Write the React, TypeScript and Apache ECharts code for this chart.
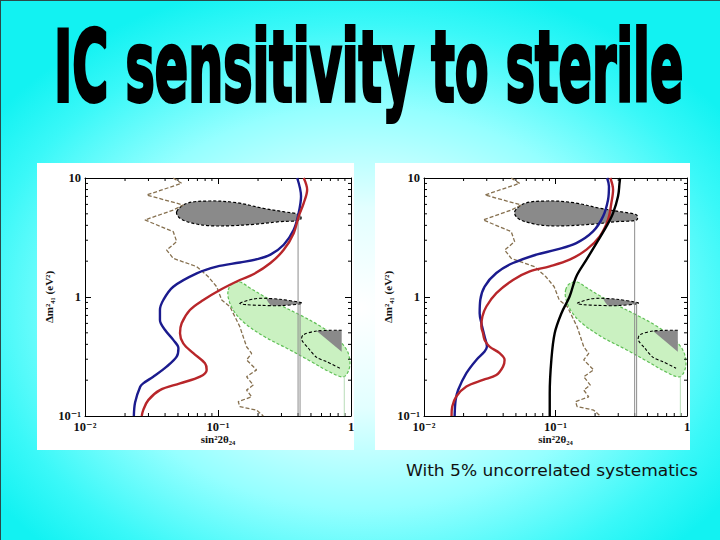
import React, { useEffect, useRef } from 'react';
import * as echarts from 'echarts';

type P = [number, number];

// ---- shared data (sin^2 2θ24, Δm²41) ----
const brownLimit: P[] = [[0.046,10],[0.0533,9.02],[0.0291,7.2],[0.0548,5.93],[0.0461,5.38],[0.0282,4.44],[0.0461,3.54],[0.0489,2.92],[0.0411,2.48],[0.0461,2.11],[0.0692,1.8],[0.0845,1.48],[0.0977,1.22],[0.1067,0.944],[0.123,0.83],[0.146,0.562],[0.164,0.382],[0.179,0.336],[0.164,0.296],[0.195,0.244],[0.164,0.214],[0.184,0.182],[0.164,0.165],[0.179,0.145],[0.142,0.132],[0.146,0.12],[0.195,0.112],[0.219,0.1]];
const grayTop: P[] = [[0.0489,5.21],[0.0582,6.12],[0.0871,6.41],[0.138,6.2],[0.219,5.56],[0.31,5.21],[0.414,4.89],[0.414,4.44],[0.292,4.3],[0.195,4.1],[0.123,3.97],[0.0871,3.97],[0.0652,4.16],[0.0518,4.58]];
const grayMidOutline: P[] = [[0.146,0.885],[0.184,0.962],[0.219,0.975],[0.292,0.957],[0.426,0.896],[0.426,0.877],[0.292,0.846],[0.207,0.851],[0.164,0.862]];
const grayMidFill: P[] = [[0.232,0.965],[0.292,0.957],[0.426,0.896],[0.426,0.877],[0.3,0.846],[0.25,0.85]];
const grayLowFill: P[] = [[0.552,0.518],[0.851,0.525],[0.851,0.347]];
const grayLowOutline: P[] = [[0.851,0.525],[0.552,0.518],[0.437,0.48],[0.426,0.436],[0.478,0.371],[0.552,0.311],[0.656,0.286],[0.826,0.252]];
const greenRegion: P[] = [[0.1195,1.146],[0.127,1.285],[0.146,1.336],[0.174,1.19],[0.219,1.02],[0.292,0.857],[0.414,0.706],[0.585,0.571],[0.78,0.452],[0.929,0.359],[0.982,0.284],[0.949,0.234],[0.871,0.213],[0.695,0.234],[0.492,0.29],[0.348,0.359],[0.219,0.47],[0.155,0.617],[0.13,0.778],[0.1195,0.982]];
const vLineA: P[] = [[0.4,4.4],[0.4,0.1]];
const vLineB: P[] = [[0.414,0.88],[0.414,0.1]];
const vLineC: P[] = [[0.89,0.215],[0.89,0.1]];

// ---- left panel curves ----
const blueLeft: P[] = [[0.0233,0.1],[0.0238,0.13],[0.026,0.176],[0.0274,0.188],[0.0326,0.214],[0.0411,0.26],[0.0489,0.315],[0.0504,0.371],[0.0461,0.436],[0.04,0.528],[0.0366,0.641],[0.0366,0.778],[0.0388,0.944],[0.0461,1.22],[0.0692,1.58],[0.0977,1.8],[0.146,1.95],[0.197,2.08],[0.248,2.27],[0.312,2.75],[0.371,3.67],[0.404,5.07],[0.421,7.01],[0.394,10]];
const redLeft: P[] = [[0.0267,0.1],[0.0274,0.112],[0.0299,0.136],[0.0366,0.165],[0.0518,0.188],[0.0733,0.214],[0.0822,0.244],[0.0798,0.277],[0.0652,0.337],[0.0548,0.408],[0.0518,0.495],[0.0533,0.601],[0.0615,0.778],[0.0776,0.944],[0.1035,1.146],[0.146,1.39],[0.186,1.56],[0.248,1.93],[0.312,2.49],[0.371,3.44],[0.404,4.76],[0.441,6.16],[0.468,7.98],[0.441,10]];

// ---- right panel curves ----
const blueRight: P[] = [[0.0171,0.1],[0.0174,0.136],[0.0182,0.166],[0.021,0.229],[0.025,0.296],[0.0289,0.348],[0.0301,0.383],[0.0289,0.466],[0.0273,0.603],[0.0265,0.731],[0.0268,0.946],[0.0289,1.225],[0.0355,1.59],[0.0475,1.93],[0.0715,2.27],[0.1014,2.5],[0.144,2.84],[0.193,3.56],[0.23,4.76],[0.251,6.57],[0.255,8.51],[0.247,10]];
const redRight: P[] = [[0.0162,0.1],[0.0164,0.12],[0.0176,0.146],[0.021,0.177],[0.0281,0.201],[0.0355,0.221],[0.0399,0.26],[0.041,0.296],[0.0376,0.337],[0.0315,0.383],[0.0289,0.436],[0.0281,0.497],[0.0273,0.565],[0.0278,0.686],[0.0298,0.832],[0.0355,1.077],[0.0475,1.39],[0.0637,1.64],[0.0903,1.81],[0.128,2.06],[0.172,2.5],[0.217,3.23],[0.251,4.46],[0.266,6.17],[0.274,7.98],[0.261,10]];
const blackRight: P[] = [[0.0904,0.1],[0.0904,0.155],[0.093,0.296],[0.0986,0.497],[0.111,0.731],[0.128,1.01],[0.144,1.49],[0.172,2.06],[0.205,2.84],[0.244,3.92],[0.274,5.07],[0.299,7.01],[0.307,9.08],[0.31,10]];

// ---- ticks & labels ----
const xMinorTicks = [0.02,0.03,0.04,0.05,0.06,0.07,0.08,0.09,0.2,0.3,0.4,0.5,0.6,0.7,0.8,0.9];
const yMinorTicks = [0.2,0.3,0.4,0.5,0.6,0.7,0.8,0.9,2,3,4,5,6,7,8,9];
const tickLabels: Record<string, string> = { '-2': '10⁻²', '-1': '10⁻¹', '0': '1', '1': '10' };
const xName = 'sin²2θ₂₄';
const yName = 'Δm²₄₁ (eV²)';
const titleText = 'IC sensitivity to sterile';
const captionText = 'With 5% uncorrelated systematics';

const panels = [
  { grid: { left: 85, top: 178, width: 266, height: 238 }, box: { x: 37, y: 163, w: 317, h: 287 } },
  { grid: { left: 424, top: 178, width: 263, height: 238 }, box: { x: 375, y: 163, w: 315, h: 287 } },
];

const fmt = (v: number) => tickLabels[String(Math.round(Math.log10(v)))] ?? String(v);
const labelFont = { fontFamily: "'Liberation Serif', 'DejaVu Serif', serif", color: '#111', fontWeight: 'bold' as const };

function makeAxis(isX: boolean, gridIndex: number, mirror: boolean) {
  return {
    type: 'log', logBase: 10, gridIndex,
    position: isX ? (mirror ? 'top' : 'bottom') : (mirror ? 'right' : 'left'),
    min: isX ? 0.01 : 0.1, max: isX ? 1 : 10,
    axisLine: { show: true, onZero: false, lineStyle: { color: '#000', width: 1 } },
    axisTick: { show: true, inside: true, length: 6, lineStyle: { color: '#000', width: 1 } },
    axisLabel: { show: !mirror, formatter: fmt, fontSize: 12.5, margin: isX ? 4 : 4, showMinLabel: true, showMaxLabel: true, ...labelFont },
    splitLine: { show: false },
    name: mirror ? '' : (isX ? xName : yName),
    nameLocation: 'middle',
    nameGap: isX ? 15 : 30,
    nameTextStyle: { fontSize: 11, ...labelFont },
  };
}

function polygonSeries(pi: number, pts: P[], fill: string | null, stroke: string | null, closed: boolean, smooth: number, dash: number[] | null, lw = 1.1) {
  return {
    type: 'custom', xAxisIndex: pi * 2, yAxisIndex: pi * 2, silent: true, clip: true,
    data: [[0.1, 1]],
    renderItem: (_params: any, api: any) => ({
      type: closed ? 'polygon' : 'polyline',
      shape: { points: pts.map((p) => api.coord(p)), smooth },
      style: { fill: closed ? fill : null, stroke, lineWidth: lw, lineDash: dash },
    }),
  };
}

function minorTickSeries(pi: number, isX: boolean) {
  const vals = isX ? xMinorTicks : yMinorTicks;
  return {
    type: 'custom', xAxisIndex: pi * 2, yAxisIndex: pi * 2, silent: true, clip: false,
    data: vals.map((v) => (isX ? [v, 1] : [0.1, v])),
    renderItem: (_params: any, api: any) => {
      const v = api.value(isX ? 0 : 1);
      const a = isX ? api.coord([v, 0.1]) : api.coord([0.01, v]);
      const b = isX ? api.coord([v, 10]) : api.coord([1, v]);
      const st = { stroke: '#000', lineWidth: 1 };
      return {
        type: 'group',
        children: isX
          ? [
              { type: 'line', shape: { x1: a[0], y1: a[1], x2: a[0], y2: a[1] - 3 }, style: st },
              { type: 'line', shape: { x1: b[0], y1: b[1], x2: b[0], y2: b[1] + 3 }, style: st },
            ]
          : [
              { type: 'line', shape: { x1: a[0], y1: a[1], x2: a[0] + 3, y2: a[1] }, style: st },
              { type: 'line', shape: { x1: b[0], y1: b[1], x2: b[0] - 3, y2: b[1] }, style: st },
            ],
      };
    },
  };
}

function lineSeries(pi: number, data: P[], color: string, width: number, smooth: number | boolean, type: any = 'solid') {
  return {
    type: 'line', xAxisIndex: pi * 2, yAxisIndex: pi * 2, data, showSymbol: false, symbol: 'none',
    smooth, silent: true, clip: true,
    lineStyle: { color, width, type },
  };
}

function panelSeries(pi: number) {
  const s: any[] = [
    polygonSeries(pi, greenRegion, 'rgba(196,240,186,0.9)', '#5fbf55', true, 0.35, [3, 2], 1.2),
    polygonSeries(pi, grayTop, '#8a8a8a', '#000', true, 0.35, [3, 2], 1.2),
    polygonSeries(pi, grayMidFill, '#8a8a8a', null, true, 0.2, null),
    polygonSeries(pi, grayMidOutline, null, '#000', true, 0.3, [3, 2], 1.1),
    polygonSeries(pi, grayLowFill, '#8a8a8a', null, true, 0, null),
    polygonSeries(pi, grayLowOutline, null, '#000', false, 0.3, [3, 2], 1.1),
    lineSeries(pi, vLineA, '#8c8c8c', 1, false),
    lineSeries(pi, vLineB, '#8c8c8c', 1, false),
    lineSeries(pi, vLineC, '#b8dcb8', 1, false),
    lineSeries(pi, brownLimit, '#86704f', 1.3, false, [4, 2]),
  ];
  if (pi === 0) {
    s.push(lineSeries(pi, blueLeft, '#1b1b8e', 2.4, 0.35));
    s.push(lineSeries(pi, redLeft, '#b8262a', 2.4, 0.35));
  } else {
    s.push(lineSeries(pi, blueRight, '#1b1b8e', 2.4, 0.35));
    s.push(lineSeries(pi, redRight, '#b8262a', 2.4, 0.35));
    s.push(lineSeries(pi, blackRight, '#000', 2.4, 0.35));
  }
  s.push(minorTickSeries(pi, true));
  s.push(minorTickSeries(pi, false));
  return s;
}

export default function App() {
  const ref = useRef<HTMLDivElement>(null);
  useEffect(() => {
    if (!ref.current) return;
    const chart = echarts.init(ref.current, null, { renderer: 'svg' });
    const xAxis: any[] = [];
    const yAxis: any[] = [];
    panels.forEach((_, i) => {
      xAxis.push(makeAxis(true, i, false), makeAxis(true, i, true));
      yAxis.push(makeAxis(false, i, false), makeAxis(false, i, true));
    });
    const option: any = {
      animation: false,
      grid: panels.map((p) => ({ ...p.grid, containLabel: false })),
      xAxis,
      yAxis,
      graphic: [
        {
          type: 'rect', z: -100, silent: true,
          shape: { x: 0, y: 0, width: 720, height: 540 },
          style: {
            fill: {
              type: 'radial', x: 0.5, y: 0.57, r: 0.62,
              colorStops: [
                { offset: 0, color: '#ffffff' },
                { offset: 0.3, color: '#e2ffff' },
                { offset: 0.6, color: '#95ffff' },
                { offset: 0.85, color: '#3af8f8' },
                { offset: 1, color: '#12f2f2' },
              ],
            },
          },
        },
        { type: 'line', z: -90, silent: true, shape: { x1: 0.5, y1: 0, x2: 0.5, y2: 540 }, style: { stroke: '#2a4a4a', lineWidth: 1 } },
        { type: 'line', z: -90, silent: true, shape: { x1: 0, y1: 0.5, x2: 720, y2: 0.5 }, style: { stroke: '#2a4a4a', lineWidth: 1 } },
        ...panels.map((p) => ({
          type: 'rect', z: -50, silent: true,
          shape: { x: p.box.x, y: p.box.y, width: p.box.w, height: p.box.h },
          style: { fill: '#ffffff' },
        })),
        {
          type: 'text', z: 10, silent: true,
          x: 54, y: 18, scaleX: 0.82, scaleY: 1.62,
          style: {
            text: titleText, fontFamily: "'DejaVu Sans', sans-serif", fontWeight: 'bold', fontSize: 60,
            fill: '#000', stroke: '#000', lineWidth: 2.4, verticalAlign: 'top', align: 'left',
          },
        },
        {
          type: 'text', z: 10, silent: true,
          x: 406, y: 471, scaleX: 1.065,
          style: {
            text: captionText, fontFamily: "'DejaVu Sans', sans-serif", fontSize: 16,
            fill: '#111', verticalAlign: 'middle', align: 'left',
          },
        },
      ],
      series: [...panelSeries(0), ...panelSeries(1)],
    };
    chart.setOption(option);
    return () => chart.dispose();
  }, []);
  return <div ref={ref} style={{ position: 'absolute', left: 0, top: 0, width: 720, height: 540 }} />;
}
